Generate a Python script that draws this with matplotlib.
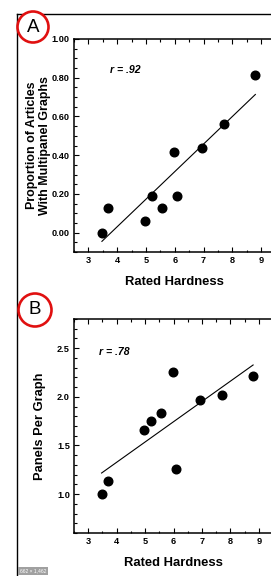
import numpy as np
import matplotlib
matplotlib.use("Agg")
import matplotlib.pyplot as plt
from matplotlib.patches import Circle
from matplotlib.lines import Line2D
from matplotlib.ticker import MultipleLocator, FormatStrFormatter

plt.rcParams['font.family'] = ['Liberation Sans', 'DejaVu Sans']

# Data
hardness = [3.47, 3.68, 4.95, 5.20, 5.55, 5.99, 6.08, 6.93, 7.71, 8.80]
prop_multipanel = [0.0, 0.125, 0.0625, 0.1875, 0.125, 0.417, 0.1875, 0.4375, 0.5625, 0.8125]
panels_per_graph = [1.0, 1.134, 1.664, 1.747, 1.832, 2.260, 1.260, 1.966, 2.021, 2.212]
r_a = "r = .92"
r_b = "r = .78"
xlabel = "Rated Hardness"
ylabel_a = "Proportion of Articles\nWith Multipanel Graphs"
ylabel_b = "Panels Per Graph"

W, H = 271, 576
fig = plt.figure(figsize=(W / 100, H / 100), dpi=100)


def fx(px):
    return px / W


def fy(py):
    return 1 - py / H


def setup(ax, ylim, ymaj, ymin, fmt, ylab, ysize, ypad, rtxt, rpos):
    x = np.array(hardness)
    y = np.array(ylim[2])
    ax.plot(x, y, 'o', color='black', markersize=6.2, zorder=3)
    k, b = np.polyfit(x, y, 1)
    xs = np.array([x.min(), x.max()])
    ax.plot(xs, k * xs + b, color='black', lw=0.8)
    ax.set_xlim(2.5, 9.5)
    ax.set_ylim(ylim[0], ylim[1])
    ax.xaxis.set_major_locator(MultipleLocator(1))
    ax.xaxis.set_minor_locator(MultipleLocator(0.5))
    ax.yaxis.set_major_locator(MultipleLocator(ymaj))
    ax.yaxis.set_minor_locator(MultipleLocator(ymin))
    ax.yaxis.set_major_formatter(FormatStrFormatter(fmt))
    ax.tick_params(which='both', direction='in', top=True, right=False,
                   labelsize=6.6, width=0.8, pad=3)
    ax.tick_params(which='major', length=3.5)
    ax.tick_params(which='minor', length=1.8)
    for t in ax.get_xticklabels() + ax.get_yticklabels():
        t.set_fontweight('bold')
    ax.spines['right'].set_visible(False)
    for s in ['left', 'bottom', 'top']:
        ax.spines[s].set_linewidth(1.1)
    ax.set_xlabel(xlabel, fontsize=9.4, fontweight='bold', labelpad=8)
    ax.set_ylabel(ylab, fontsize=ysize, fontweight='bold', labelpad=ypad,
                  linespacing=1.1)
    ax.text(rpos[0], rpos[1], rtxt, fontsize=7.6, fontweight='bold',
            style='italic', va='center', ha='left')


axA = fig.add_axes([fx(74), fy(252), fx(275.5) - fx(74), fy(39) - fy(252)])
setup(axA, (-0.1, 1.0, prop_multipanel), 0.2, 0.05, '%.2f', ylabel_a, 8.9, 0.8,
      r_a, (3.75, 0.84))

axB = fig.add_axes([fx(74), fy(533), fx(273) - fx(74), fy(319) - fy(533)])
setup(axB, (0.6, 2.8, panels_per_graph), 0.5, 0.1, '%.1f', ylabel_b, 9.3, 8,
      r_b, (3.37, 2.46))

# Outer frame lines
fig.add_artist(Line2D([fx(17), 1.0], [fy(14), fy(14)], transform=fig.transFigure,
                      color='black', lw=1.0))
fig.add_artist(Line2D([fx(17), fx(17)], [fy(14), 0], transform=fig.transFigure,
                      color='black', lw=1.0))

# Circled letters
for lab, cx, cy, r in [("A", 33, 27, 15.5), ("B", 35, 310, 16.5)]:
    c = Circle((cx / 100, (H - cy) / 100), r / 100, transform=fig.dpi_scale_trans,
               facecolor='white', edgecolor='#e01010', lw=1.9, zorder=5)
    fig.add_artist(c)
    fig.text(fx(cx), fy(cy), lab, fontsize=13.5, ha='center', va='center',
             color='black', zorder=6)

# Screenshot size badge
fig.text(fx(20), fy(571), "662 × 1,462", fontsize=3.6, color='white', ha='left',
         va='center', bbox=dict(boxstyle='square,pad=0.35', fc='#a0a0a0', ec='none'))

fig.savefig("out.png", dpi=100)
